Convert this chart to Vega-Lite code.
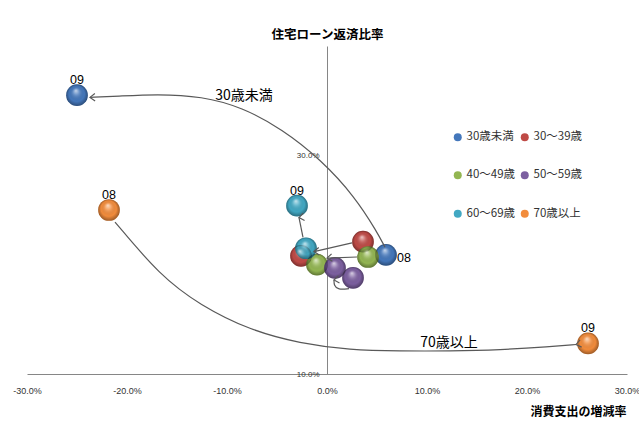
{
  "$schema": "https://vega.github.io/schema/vega-lite/v6.json",
  "width": 600,
  "height": 328,
  "autosize": {"type": "none"},
  "padding": {"left": 27, "top": 46, "right": 12, "bottom": 50},
  "background": "white",
  "config": {
    "view": {"stroke": null},
    "font": "Noto Sans CJK JP"
  },
  "datasets": {
    "bubbles": [
      {"series": "30歳未満", "year": "08", "x": 5.9, "y": 20.9},
      {"series": "30歳未満", "year": "09", "x": -25.0, "y": 35.5},
      {"series": "30～39歳", "year": "08", "x": 3.6, "y": 22.1},
      {"series": "30～39歳", "year": "09", "x": -2.6, "y": 20.8},
      {"series": "40～49歳", "year": "08", "x": 4.1, "y": 20.7},
      {"series": "40～49歳", "year": "09", "x": -1.0, "y": 20.0},
      {"series": "50～59歳", "year": "08", "x": 2.6, "y": 18.8},
      {"series": "50～59歳", "year": "09", "x": 0.8, "y": 19.7},
      {"series": "60～69歳", "year": "08", "x": -2.1, "y": 21.5},
      {"series": "60～69歳", "year": "09", "x": -3.0, "y": 25.4},
      {"series": "70歳以上", "year": "08", "x": -21.8, "y": 25.0},
      {"series": "70歳以上", "year": "09", "x": 26.1, "y": 12.8}
    ],
    "paths": [
      {"series": "30歳未満", "step": 1, "x": 5.8, "y": 21.6},
      {"series": "30歳未満", "step": 2, "x": 5.0, "y": 23.0},
      {"series": "30歳未満", "step": 3, "x": 2.8, "y": 26.2},
      {"series": "30歳未満", "step": 4, "x": -0.6, "y": 29.6},
      {"series": "30歳未満", "step": 5, "x": -4.5, "y": 32.4},
      {"series": "30歳未満", "step": 6, "x": -8.5, "y": 34.4},
      {"series": "30歳未満", "step": 7, "x": -12.5, "y": 35.4},
      {"series": "30歳未満", "step": 8, "x": -17.0, "y": 35.6},
      {"series": "30歳未満", "step": 9, "x": -21.0, "y": 35.4},
      {"series": "30歳未満", "step": 10, "x": -23.7, "y": 35.3},
      {"series": "70歳以上", "step": 1, "x": -21.2, "y": 23.9},
      {"series": "70歳以上", "step": 2, "x": -16.7, "y": 19.0},
      {"series": "70歳以上", "step": 3, "x": -12.7, "y": 16.3},
      {"series": "70歳以上", "step": 4, "x": -7.7, "y": 14.0},
      {"series": "70歳以上", "step": 5, "x": -2.7, "y": 12.8},
      {"series": "70歳以上", "step": 6, "x": 2.3, "y": 12.2},
      {"series": "70歳以上", "step": 7, "x": 7.3, "y": 12.1},
      {"series": "70歳以上", "step": 8, "x": 12.3, "y": 12.1},
      {"series": "70歳以上", "step": 9, "x": 17.3, "y": 12.2},
      {"series": "70歳以上", "step": 10, "x": 22.3, "y": 12.5},
      {"series": "70歳以上", "step": 11, "x": 24.9, "y": 12.7},
      {"series": "60～69歳", "step": 1, "x": -2.4, "y": 22.5},
      {"series": "60～69歳", "step": 2, "x": -2.8, "y": 24.3},
      {"series": "30～39歳", "step": 1, "x": 2.5, "y": 22.0},
      {"series": "30～39歳", "step": 2, "x": -1.3, "y": 21.2},
      {"series": "40～49歳", "step": 1, "x": 3.0, "y": 20.7},
      {"series": "40～49歳", "step": 2, "x": 0.0, "y": 20.6},
      {"series": "50～59歳", "step": 1, "x": 2.2, "y": 17.8},
      {"series": "50～59歳", "step": 2, "x": 1.1, "y": 17.7},
      {"series": "50～59歳", "step": 3, "x": 0.7, "y": 18.1},
      {"series": "50～59歳", "step": 4, "x": 0.7, "y": 18.6}
    ],
    "notes": [
      {"text": "30歳未満", "x": -8.3, "y": 35.4},
      {"text": "70歳以上", "x": 12.2, "y": 12.8}
    ]
  },
  "encoding": {
    "x": {
      "field": "x",
      "type": "quantitative",
      "scale": {"domain": [-30, 30], "nice": false, "zero": false},
      "axis": {
        "values": [-30, -20, -10, 0, 10, 20, 30],
        "labelExpr": "replace(format(datum.value, '.1f'), '\u2212', '-') + '%'",
        "grid": false,
        "ticks": false,
        "domainColor": "#868686",
        "labelFont": "Liberation Sans",
        "labelFontSize": 9,
        "labelColor": "#333333",
        "labelPadding": 12,
        "labelFlush": false,
        "title": "消費支出の増減率",
        "titleFont": "Noto Sans CJK JP",
        "titleFontSize": 12,
        "titleFontWeight": "bold",
        "titleColor": "#000000",
        "titleAlign": "right",
        "titleAnchor": null,
        "titleX": 599,
        "titleY": 37,
        "titleBaseline": "middle"
      }
    },
    "y": {
      "field": "y",
      "type": "quantitative",
      "scale": {"domain": [10, 40], "nice": false, "zero": false},
      "axis": {
        "values": [10, 30],
        "labelExpr": "format(datum.value, '.1f') + '%'",
        "offset": -300,
        "grid": false,
        "ticks": false,
        "domainColor": "#868686",
        "labelFont": "Liberation Sans",
        "labelFontSize": 8,
        "labelColor": "#333333",
        "labelPadding": 8,
        "labelFlush": false,
        "title": "住宅ローン返済比率",
        "titleFont": "Noto Sans CJK JP",
        "titleFontSize": 12.5,
        "titleFontWeight": "bold",
        "titleColor": "#000000",
        "titleAngle": 0,
        "titleAlign": "center",
        "titleBaseline": "middle",
        "titleAnchor": null,
        "titleX": 0,
        "titleY": -12
      }
    }
  },
  "layer": [
    {
      "data": {"name": "bubbles"},
      "mark": {"type": "point", "shape": "circle", "filled": true, "opacity": 1, "size": 470},
      "encoding": {
        "color": {
          "field": "series",
          "type": "nominal",
          "sort": null,
          "scale": {
            "domain": ["30歳未満", "30～39歳", "40～49歳", "50～59歳", "60～69歳", "70歳以上"],
            "range": ["#4477BB", "#BF4A46", "#93B652", "#7C5FA0", "#42A8C3", "#F28C3C"]
          },
          "legend": {
            "title": null,
            "orient": "none",
            "direction": "horizontal",
            "legendX": 425,
            "legendY": 85,
            "columns": 2,
            "columnPadding": 3,
            "rowPadding": 25.5,
            "symbolType": "circle",
            "symbolSize": 64,
            "symbolStrokeWidth": 0,
            "labelFont": "Noto Sans CJK JP",
            "labelFontSize": 11.5,
            "labelColor": "#333333",
            "labelOffset": 3
          }
        },
        "order": {"field": "series", "sort": "ascending"}
      }
    },
    {
      "data": {"name": "bubbles"},
      "mark": {
        "type": "point",
        "shape": "circle",
        "filled": true,
        "opacity": 1,
        "size": 470,
        "fill": {
          "gradient": "radial",
          "x1": 0.45, "y1": 0.28, "r1": 0,
          "x2": 0.5, "y2": 0.5, "r2": 0.5,
          "stops": [
            {"offset": 0, "color": "rgba(255,255,255,0.7)"},
            {"offset": 0.3, "color": "rgba(255,255,255,0.2)"},
            {"offset": 0.7, "color": "rgba(0,0,0,0)"},
            {"offset": 1, "color": "rgba(0,0,0,0.35)"}
          ]
        }
      }
    },
    {
      "data": {"name": "paths"},
      "mark": {"type": "line", "interpolate": "basis", "color": "#595959", "strokeWidth": 1.2},
      "encoding": {
        "detail": {"field": "series"},
        "order": {"field": "step", "type": "quantitative"}
      }
    },
    {
      "data": {"name": "paths"},
      "transform": [
        {"joinaggregate": [{"op": "max", "field": "step", "as": "last"}], "groupby": ["series"]},
        {"filter": "datum.step === datum.last"}
      ],
      "mark": {
        "type": "point",
        "shape": "M-1,-0.75L0,0L-1,0.75",
        "filled": false,
        "stroke": "#595959",
        "strokeWidth": 1.2,
        "size": 100,
        "opacity": 1
      },
      "encoding": {
        "angle": {
          "field": "series",
          "type": "nominal",
          "scale": {
            "domain": ["30歳未満", "30～39歳", "40～49歳", "50～59歳", "60～69歳", "70歳以上"],
            "range": [178, 168, 178, 268, 259, 353]
          },
          "legend": null
        }
      }
    },
    {
      "data": {"name": "bubbles"},
      "transform": [
        {"filter": "(datum.series === '30歳未満' && datum.year === '09') || datum.series === '70歳以上' || (datum.series === '60～69歳' && datum.year === '09')"}
      ],
      "mark": {"type": "text", "font": "Liberation Sans", "fontSize": 12.5, "color": "#000000", "dy": -15, "baseline": "middle"},
      "encoding": {"text": {"field": "year"}}
    },
    {
      "data": {"name": "bubbles"},
      "transform": [
        {"filter": "datum.series === '30歳未満' && datum.year === '08'"}
      ],
      "mark": {"type": "text", "font": "Liberation Sans", "fontSize": 12.5, "color": "#000000", "align": "left", "dx": 11, "dy": 3, "baseline": "middle"},
      "encoding": {"text": {"field": "year"}}
    },
    {
      "data": {"name": "notes"},
      "mark": {"type": "text", "font": "Noto Sans CJK JP", "fontSize": 14, "color": "#000000", "baseline": "middle"},
      "encoding": {"text": {"field": "text"}}
    }
  ]
}
